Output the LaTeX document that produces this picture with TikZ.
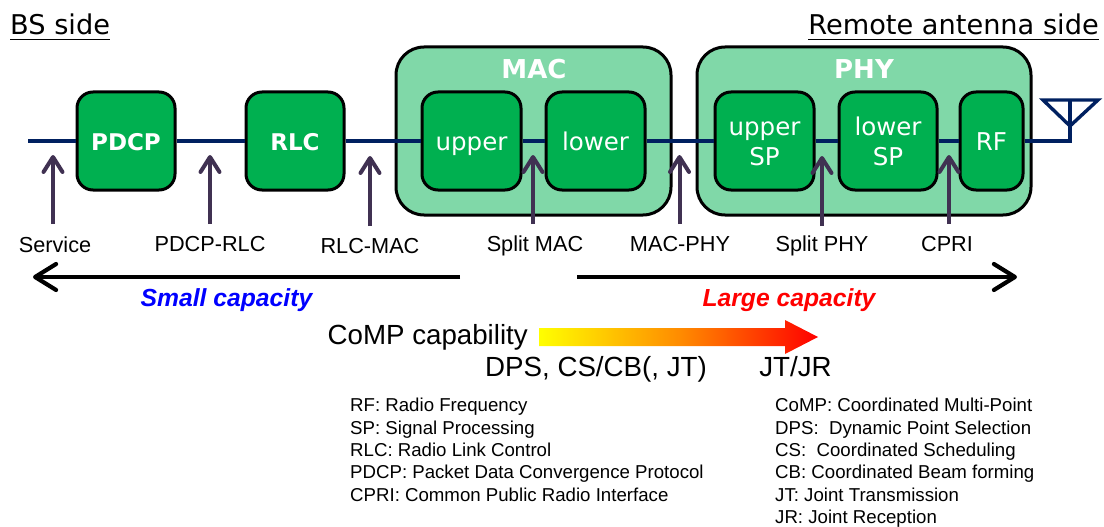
\documentclass[tikz,border=0pt]{standalone}
\usepackage{fontspec}
\setmainfont{Liberation Sans}
\newfontfamily\headfont{DejaVu Sans}
\usetikzlibrary{arrows.meta}
\definecolor{outerg}{HTML}{80D8A8}
\definecolor{innerg}{HTML}{00B050}
\definecolor{navyl}{HTML}{002060}
\definecolor{purpl}{HTML}{403152}
\newcommand{\boxlab}[1]{\raisebox{-9.7pt}[0pt][0pt]{#1}}
\tikzset{
  outerbox/.style={draw=black,line width=3pt,fill=outerg,rounded corners=28pt,inner sep=0pt},
  innerbox/.style={draw=black,line width=3pt,fill=innerg,rounded corners=16pt,inner sep=0pt,text=white,align=center,
     font=\headfont\fontsize{24.5}{30}\selectfont},
  boldbox/.style={innerbox,font=\headfont\bfseries\fontsize{23}{30}\selectfont},
  grouptitle/.style={text=white,font=\headfont\bfseries\fontsize{26}{30}\selectfont,inner sep=0pt},
  heading/.style={font=\headfont\fontsize{27.2}{30}\selectfont,inner sep=0pt,inner ysep=2pt},
  underl/.style={line width=1.5pt},
  wire/.style={draw=navyl,line width=4pt},
  antenna/.style={draw=navyl,line width=3.4pt,line join=miter},
  splitarrow/.style={draw=purpl,line width=4pt,-{Straight Barb[length=15pt,width=19pt,line width=4pt,round]}},
  splitlabel/.style={font=\fontsize{21.7}{25}\selectfont,inner sep=0pt},
  capacity/.style={draw=black,line width=4.2pt,-{Straight Barb[length=21pt,width=26pt,line width=4.2pt,round]}},
  capfont/.style={font=\bfseries\itshape\fontsize{24.7}{28}\selectfont,inner sep=0pt},
  compfont/.style={font=\fontsize{27.7}{32}\selectfont,inner sep=0pt},
  legendtext/.style={font=\fontsize{18.65}{22.4}\selectfont,inner sep=0pt,align=left,anchor=north west},
}
\begin{document}
\begin{tikzpicture}[x=1pt,y=-1pt]
\useasboundingbox (0,0) rectangle (1104,527);
% headings
\node[heading,anchor=west] (bs) at (10,24) {BS side};
\node[heading,anchor=east] (ra) at (1099,24) {Remote antenna side};
\draw[underl] (bs.south west) ++(0,3) coordinate (bsa) -- (bs.south east |- bsa);
\draw[underl] (ra.south west) ++(0,3) coordinate (raa) -- (ra.south east |- raa);
% outer boxes
\node[outerbox,minimum width=275pt,minimum height=168pt] (mac) at (533.5,131) {};
\node[outerbox,minimum width=334pt,minimum height=168pt] (phy) at (864,131) {};
\node[grouptitle] (mact) at (534,69) {MAC};
\node[grouptitle] (phyt) at (864,69) {PHY};
% wire ends
\coordinate (wstart) at (28,141);
\coordinate (antfoot) at (1070,141);
\coordinate (antapex) at (1070,126);
\coordinate (antl) at (1043,100);
\coordinate (antr) at (1098,100);
\coordinate (anttop) at (1070,100);
% inner boxes
\node[boldbox,minimum width=98pt,minimum height=98pt] (pdcp) at (126,141) {\boxlab{PDCP}};
\node[boldbox,minimum width=98pt,minimum height=98pt] (rlc) at (295,141) {\boxlab{RLC}};
\node[innerbox,minimum width=99pt,minimum height=98pt] (mu) at (471.5,141) {\boxlab{upper}};
\node[innerbox,minimum width=99pt,minimum height=98pt] (ml) at (595.5,141) {\boxlab{lower}};
\node[innerbox,minimum width=99pt,minimum height=98pt] (pu) at (764.5,141) {\boxlab{upper}\\\boxlab{SP}};
\node[innerbox,minimum width=98pt,minimum height=98pt] (pl) at (888,141) {\boxlab{lower}\\\boxlab{SP}};
\node[innerbox,minimum width=63pt,minimum height=98pt] (rf) at (991.5,141) {\boxlab{RF}};
% wires
\draw[wire] (wstart) -- (pdcp.west);
\draw[wire] (pdcp.east) -- (rlc.west);
\draw[wire] (rlc.east) -- (mu.west);
\draw[wire] (mu.east) -- (ml.west);
\draw[wire] (ml.east) -- (pu.west);
\draw[wire] (pu.east) -- (pl.west);
\draw[wire] (pl.east) -- (rf.west);
\draw[wire,line join=miter] (rf.east) -- (antfoot) -- (anttop);
\draw[antenna] (antl) -- (antr) -- (antapex) -- cycle;
% split labels
\node[splitlabel] (l1) at (55,245) {Service};
\node[splitlabel] (l2) at (210,244) {PDCP-RLC};
\node[splitlabel] (l3) at (370,246) {RLC-MAC};
\node[splitlabel] (l4) at (535,245.5) {Split MAC};
\node[splitlabel] (l5) at (680,244) {MAC-PHY};
\node[splitlabel] (l6) at (822,246) {Split PHY};
\node[splitlabel] (l7) at (947,244) {CPRI};
% split arrows
\coordinate (t1) at (53,155); \coordinate (b1) at (53,224);
\coordinate (t2) at (210,155); \coordinate (b2) at (210,224);
\coordinate (t3) at (370,156); \coordinate (b3) at (370,226);
\coordinate (t4) at (533,155); \coordinate (b4) at (533,224);
\coordinate (t5) at (679.5,155); \coordinate (b5) at (679.5,224);
\coordinate (t6) at (822,156); \coordinate (b6) at (822,226);
\coordinate (t7) at (949,155); \coordinate (b7) at (949,224);
\foreach \i in {1,...,7} \draw[splitarrow] (b\i) -- (t\i);
% capacity arrows
\coordinate (cl1) at (460,277); \coordinate (cl2) at (33,277);
\coordinate (cr1) at (577,277); \coordinate (cr2) at (1017,277);
\draw[capacity] (cl1) -- (cl2);
\draw[capacity] (cr1) -- (cr2);
\node[capfont,text=blue] (small) at (226.5,300.5) {Small capacity};
\node[capfont,text=red] (large) at (789,300.5) {Large capacity};
% CoMP
\node[compfont,anchor=east] (comp) at (528,337) {CoMP capability};
\shade[left color=yellow,right color=red,middle color=orange!90!yellow]
  (539,328) -- (785,328) -- (785,320) -- (818,337) -- (785,354) -- (785,346) -- (539,346) -- cycle;
\node[compfont] (dps) at (596,369) {DPS, CS/CB(, JT)};
\node[compfont] (jt) at (795.5,367) {JT/JR};
% legends
\node[legendtext] (lega) at (350,398) {RF: Radio Frequency\\SP: Signal Processing\\RLC: Radio Link Control\\PDCP: Packet Data Convergence Protocol\\CPRI: Common Public Radio Interface};
\node[legendtext] (legb) at (775,398) {CoMP: Coordinated Multi-Point\\DPS:\ \ Dynamic Point Selection\\CS:\ \ Coordinated Scheduling\\CB: Coordinated Beam forming\\JT: Joint Transmission\\JR: Joint Reception};
\end{tikzpicture}
\end{document}
